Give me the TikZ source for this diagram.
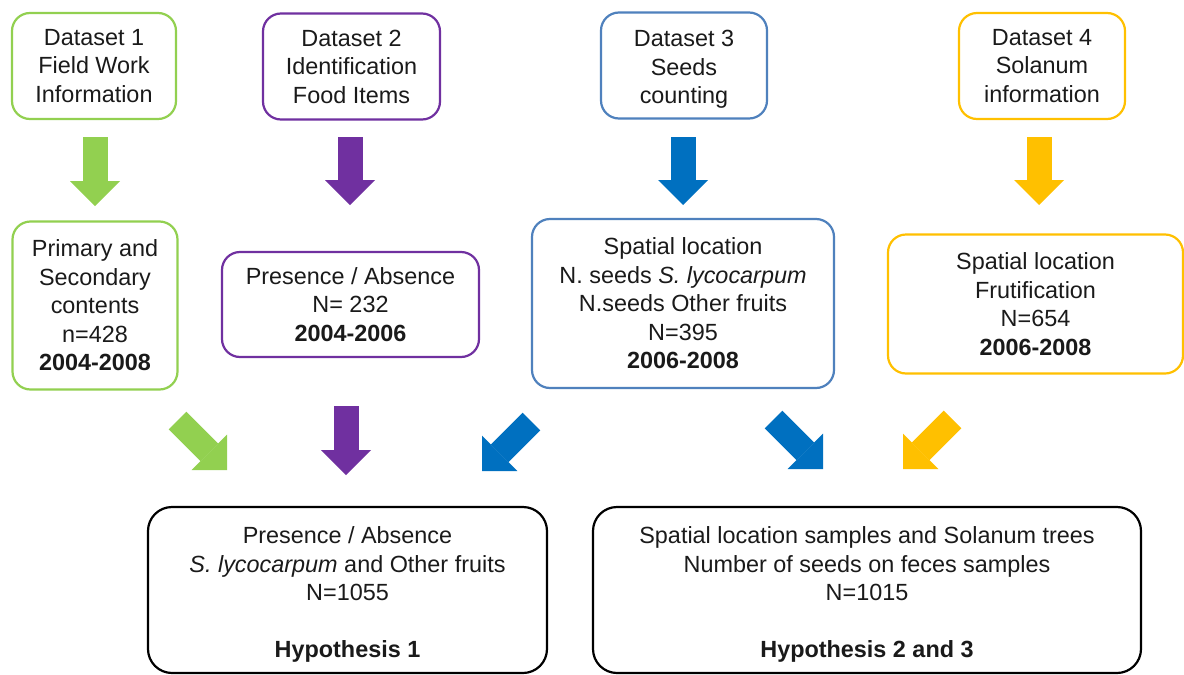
\documentclass[tikz,border=0pt]{standalone}
\usepackage{fontspec}
\setmainfont{Liberation Sans}
\usetikzlibrary{arrows.meta}
\definecolor{cgreen}{HTML}{92D050}
\definecolor{cpurple}{HTML}{7030A0}
\definecolor{cblue}{HTML}{0070C0}
\definecolor{cbluebox}{HTML}{4F81BD}
\definecolor{cyellow}{HTML}{FFC000}
\definecolor{ctext}{HTML}{1A1A1A}
\begin{document}
\begin{tikzpicture}[x=1pt,y=-1pt,
  box/.style={draw, line width=2.2pt, rounded corners=18pt, align=center, inner sep=0pt,
    text=ctext, font=\fontsize{23.4}{28.5}\selectfont},
  hbox/.style={box, draw=black, rounded corners=24pt, minimum height=166pt},
  fat/.style={line width=25pt, -{Triangle[length=25pt,width=50pt,line width=0pt]}},
]
\fill[white] (0,0) rectangle (1184,675);
\useasboundingbox (0,0) rectangle (1184,675);

% top row
\node[box, draw=cgreen, minimum width=164pt, minimum height=106pt] (d1) at (94,66) {Dataset 1\\Field Work\\Information};
\node[box, draw=cpurple, minimum width=177pt, minimum height=106pt] (d2) at (351.5,66.5) {Dataset 2\\Identification\\Food Items};
\node[box, draw=cbluebox, minimum width=166pt, minimum height=106pt] (d3) at (684,65.5) {\rule{0pt}{24pt}Dataset 3\\Seeds\\counting};
\node[box, draw=cyellow, minimum width=166pt, minimum height=106pt] (d4) at (1042,66) {Dataset 4\\Solanum\\information};

% middle row
\node[box, draw=cgreen, minimum width=165pt, minimum height=168pt] (p1) at (95,305.5) {Primary and\\Secondary\\contents\\n=428\\\textbf{2004-2008}};
\node[box, draw=cpurple, minimum width=257pt, minimum height=105pt] (p2) at (350.5,304.5) {Presence / Absence\\N= 232\\\textbf{2004-2006}};
\node[box, draw=cbluebox, minimum width=302pt, minimum height=169pt] (p3) at (683,303.5) {Spatial location\\N. seeds \textit{S. lycocarpum}\\N.seeds Other fruits\\N=395\\\textbf{2006-2008}};
\node[box, draw=cyellow, minimum width=295pt, minimum height=139pt] (p4) at (1035.5,304) {Spatial location\\Frutification\\N=654\\\textbf{2006-2008}};

% bottom row
\node[hbox, minimum width=399pt] (h1) at (347.5,590) {\rule{0pt}{26pt}Presence / Absence\\\textit{S. lycocarpum} and Other fruits\\N=1055\\[28.5pt]\textbf{Hypothesis 1}};
\node[hbox, minimum width=548pt] (h2) at (867,590) {\rule{0pt}{26pt}Spatial location samples and Solanum trees\\Number of seeds on feces samples\\N=1015\\[28.5pt]\textbf{Hypothesis 2 and 3}};

% arrow end points
\coordinate (ga1) at (95,137);   \coordinate (ga2) at (95,206);
\coordinate (pa1) at (350,137);  \coordinate (pa2) at (350,205);
\coordinate (ba1) at (683,137);  \coordinate (ba2) at (683,205);
\coordinate (ya1) at (1039,137); \coordinate (ya2) at (1039,205);
\coordinate (gb1) at (177.5,420.5); \coordinate (gb2) at (227,470);
\coordinate (pb1) at (346,406);     \coordinate (pb2) at (346,475);
\coordinate (bb1) at (531.5,421.5); \coordinate (bb2) at (482,471);
\coordinate (bc1) at (773.5,419.5); \coordinate (bc2) at (823,469);
\coordinate (yb1) at (952.5,419.5); \coordinate (yb2) at (903,469);

\draw[fat, cgreen] (ga1) -- (ga2);
\draw[fat, cpurple] (pa1) -- (pa2);
\draw[fat, cblue] (ba1) -- (ba2);
\draw[fat, cyellow] (ya1) -- (ya2);
\draw[fat, cgreen] (gb1) -- (gb2);
\draw[fat, cpurple] (pb1) -- (pb2);
\draw[fat, cblue] (bb1) -- (bb2);
\draw[fat, cblue] (bc1) -- (bc2);
\draw[fat, cyellow] (yb1) -- (yb2);
\end{tikzpicture}
\end{document}
